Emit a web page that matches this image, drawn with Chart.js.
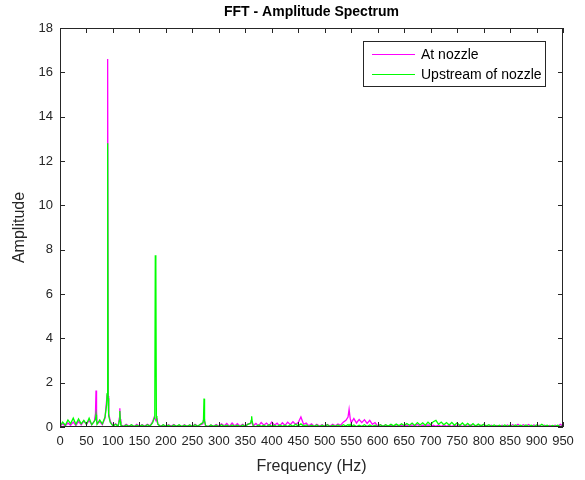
<!DOCTYPE html>
<html>
<head>
<meta charset="utf-8">
<title>FFT - Amplitude Spectrum</title>
<script src="https://cdn.jsdelivr.net/npm/chart.js@4.4.1/dist/chart.umd.min.js"></script>
<style>
  html, body { margin: 0; padding: 0; background: #ffffff; }
  #spectrumChart { display: block; }
</style>
</head>
<body>
<canvas id="spectrumChart" width="585" height="480"></canvas>
<script>
// Spectrum bins (Hz) shared by both measurement points
const freqHz = [
  0, 5, 10, 15, 20, 25, 30, 35, 40, 45,
  50, 55, 60, 65, 67, 68, 69, 70, 75, 80, 85,
  88, 89, 90, 91, 92, 95, 100, 105, 110,
  112, 113, 114, 115, 120, 125, 130, 135, 140, 145,
  150, 155, 160, 165, 170, 175, 178, 179, 180, 181, 182, 183, 185,
  190, 195, 200, 205, 210, 215, 220, 225, 230, 235,
  240, 245, 250, 255, 260, 265, 270, 271, 272, 273, 275,
  280, 285, 290, 295, 300, 305, 310, 315, 320, 325,
  330, 335, 340, 345, 350, 355, 360, 361, 362, 363, 365,
  370, 375, 380, 385, 390, 395, 400, 405, 410, 415,
  420, 425, 430, 435, 440, 445, 450, 455, 460, 465,
  470, 475, 480, 485, 490, 495, 500, 505, 510, 515,
  520, 525, 530, 535, 540, 544, 546, 548, 550, 555,
  560, 565, 570, 575, 580, 585, 590, 595, 600, 605,
  610, 615, 620, 625, 630, 635, 640, 645, 650, 655,
  660, 665, 670, 675, 680, 685, 690, 695, 700, 705,
  710, 715, 720, 725, 730, 735, 740, 745, 750, 755,
  760, 765, 770, 775, 780, 785, 790, 795, 800, 805,
  810, 815, 820, 825, 830, 835, 840, 845, 850, 855,
  860, 865, 870, 875, 880, 885, 890, 895, 900, 905,
  910, 915, 920, 925, 930, 935, 940, 945, 950
];

const atNozzle = [
  0.03, 0.14, 0.05, 0.18, 0.08, 0.22, 0.06, 0.25, 0.10, 0.28,
  0.12, 0.30, 0.10, 0.28, 0.60, 1.65, 0.70, 0.15, 0.24, 0.10, 0.40,
  1.20, 1.45, 16.60, 1.40, 0.60, 0.25, 0.06, 0.14, 0.05,
  0.40, 0.85, 0.35, 0.10, 0.03, 0.12, 0.04, 0.09, 0.02, 0.12,
  0.03, 0.10, 0.04, 0.12, 0.05, 0.25, 0.45, 0.40, 0.35, 0.30, 0.30, 0.40, 0.12,
  0.03, 0.09, 0.02, 0.10, 0.04, 0.11, 0.03, 0.08, 0.02, 0.10,
  0.03, 0.09, 0.02, 0.12, 0.04, 0.10, 0.15, 0.30, 0.35, 0.25, 0.06,
  0.02, 0.09, 0.03, 0.11, 0.04, 0.14, 0.05, 0.16, 0.03, 0.18,
  0.05, 0.15, 0.04, 0.12, 0.03, 0.14, 0.15, 0.20, 0.25, 0.18, 0.06,
  0.16, 0.05, 0.20, 0.08, 0.18, 0.06, 0.22, 0.08, 0.17, 0.05,
  0.19, 0.07, 0.22, 0.10, 0.24, 0.12, 0.20, 0.45, 0.12, 0.18,
  0.05, 0.14, 0.03, 0.12, 0.04, 0.10, 0.03, 0.11, 0.04, 0.12,
  0.05, 0.14, 0.08, 0.22, 0.30, 0.45, 0.80, 0.40, 0.20, 0.38,
  0.18, 0.34, 0.20, 0.33, 0.16, 0.30, 0.12, 0.20, 0.04, 0.10,
  0.03, 0.09, 0.02, 0.08, 0.03, 0.10, 0.02, 0.08, 0.03, 0.09,
  0.02, 0.10, 0.03, 0.12, 0.02, 0.09, 0.03, 0.10, 0.02, 0.08,
  0.03, 0.09, 0.02, 0.10, 0.03, 0.08, 0.02, 0.09, 0.03, 0.08,
  0.02, 0.08, 0.03, 0.09, 0.02, 0.07, 0.03, 0.08, 0.02, 0.07,
  0.03, 0.08, 0.02, 0.07, 0.03, 0.08, 0.02, 0.09, 0.03, 0.10,
  0.04, 0.12, 0.03, 0.10, 0.04, 0.11, 0.03, 0.09, 0.04, 0.08,
  0.02, 0.08, 0.03, 0.07, 0.02, 0.08, 0.03, 0.12, 0.04
];

const upstreamOfNozzle = [
  0.04, 0.22, 0.08, 0.32, 0.15, 0.40, 0.12, 0.36, 0.14, 0.30,
  0.12, 0.40, 0.10, 0.26, 0.35, 0.55, 0.30, 0.12, 0.32, 0.14, 0.45,
  1.00, 1.50, 12.80, 1.30, 0.50, 0.20, 0.05, 0.12, 0.04,
  0.30, 0.72, 0.25, 0.08, 0.02, 0.09, 0.03, 0.10, 0.02, 0.08,
  0.03, 0.09, 0.02, 0.10, 0.04, 0.20, 0.40, 0.55, 7.75, 7.30, 0.50, 0.35, 0.12,
  0.02, 0.10, 0.03, 0.08, 0.02, 0.09, 0.03, 0.10, 0.02, 0.08,
  0.03, 0.09, 0.02, 0.10, 0.03, 0.12, 0.20, 0.35, 1.28, 0.30, 0.06,
  0.02, 0.09, 0.03, 0.08, 0.02, 0.10, 0.03, 0.08, 0.02, 0.09,
  0.03, 0.08, 0.02, 0.09, 0.03, 0.12, 0.18, 0.30, 0.48, 0.25, 0.05,
  0.02, 0.09, 0.03, 0.08, 0.02, 0.10, 0.03, 0.08, 0.02, 0.09,
  0.03, 0.08, 0.02, 0.10, 0.03, 0.12, 0.05, 0.14, 0.04, 0.09,
  0.02, 0.08, 0.03, 0.09, 0.02, 0.08, 0.03, 0.10, 0.02, 0.08,
  0.03, 0.09, 0.02, 0.10, 0.04, 0.11, 0.06, 0.12, 0.03, 0.09,
  0.02, 0.08, 0.03, 0.10, 0.02, 0.09, 0.03, 0.08, 0.02, 0.10,
  0.03, 0.10, 0.04, 0.12, 0.05, 0.13, 0.06, 0.15, 0.07, 0.16,
  0.08, 0.18, 0.07, 0.20, 0.09, 0.19, 0.08, 0.22, 0.10, 0.24,
  0.30, 0.12, 0.22, 0.10, 0.20, 0.09, 0.21, 0.08, 0.19, 0.07,
  0.18, 0.06, 0.16, 0.05, 0.15, 0.04, 0.13, 0.05, 0.12, 0.04,
  0.10, 0.03, 0.09, 0.03, 0.08, 0.02, 0.09, 0.03, 0.08, 0.02,
  0.09, 0.03, 0.08, 0.02, 0.09, 0.03, 0.08, 0.02, 0.09, 0.03,
  0.12, 0.03, 0.08, 0.02, 0.07, 0.03, 0.08, 0.02, 0.05
];

const seriesNames = ["At nozzle", "Upstream of nozzle"];
const seriesColors = ["#ff00ff", "#00ff00"];

const axisColor = "#262626";
const fontFamily = "Arial, 'Liberation Sans', Helvetica, sans-serif";

function toPoints(values) {
  return freqHz.map((f, index) => ({ x: f, y: values[index] }));
}

// MATLAB-style frame: box, inward ticks on all four sides, titles and legend
const matlabFramePlugin = {
  id: "matlabFrame",
  afterDraw(chart) {
    const { ctx, chartArea } = chart;
    const { left, right, top, bottom } = chartArea;
    const xScale = chart.scales.x;
    const yScale = chart.scales.y;
    const tickLen = 5;

    ctx.save();
    ctx.strokeStyle = axisColor;
    ctx.lineWidth = 1;
    ctx.strokeRect(left + 0.5, top + 0.5, right - left - 1, bottom - top - 1);

    ctx.beginPath();
    xScale.ticks.forEach((tick) => {
      const x = Math.round(xScale.getPixelForValue(tick.value)) + 0.5;
      ctx.moveTo(x, bottom);
      ctx.lineTo(x, bottom - tickLen);
      ctx.moveTo(x, top);
      ctx.lineTo(x, top + tickLen);
    });
    yScale.ticks.forEach((tick) => {
      const y = Math.round(yScale.getPixelForValue(tick.value)) + 0.5;
      ctx.moveTo(left, y);
      ctx.lineTo(left + tickLen, y);
      ctx.moveTo(right, y);
      ctx.lineTo(right - tickLen, y);
    });
    ctx.stroke();

    // title and axis labels
    ctx.textAlign = "center";
    ctx.textBaseline = "middle";
    ctx.fillStyle = "#000000";
    ctx.font = `bold 14px ${fontFamily}`;
    ctx.fillText("FFT - Amplitude Spectrum", (left + right) / 2, 12);

    ctx.fillStyle = axisColor;
    ctx.font = `16px ${fontFamily}`;
    ctx.fillText("Frequency (Hz)", (left + right) / 2, 467);

    ctx.translate(20, (top + bottom) / 2);
    ctx.rotate(-Math.PI / 2);
    ctx.fillText("Amplitude", 0, 0);
    ctx.restore();

    drawLegend(ctx);
  }
};

function drawLegend(ctx) {
  const box = { x: 363, y: 41, w: 182, h: 45 };
  const rowY = [54, 74];

  ctx.save();
  ctx.fillStyle = "#ffffff";
  ctx.fillRect(box.x, box.y, box.w, box.h);
  ctx.strokeStyle = axisColor;
  ctx.lineWidth = 1;
  ctx.strokeRect(box.x + 0.5, box.y + 0.5, box.w, box.h);

  ctx.font = `14px ${fontFamily}`;
  ctx.textAlign = "left";
  ctx.textBaseline = "middle";
  seriesNames.forEach((name, index) => {
    ctx.strokeStyle = seriesColors[index];
    ctx.lineWidth = 1;
    ctx.beginPath();
    ctx.moveTo(372, rowY[index] + 0.5);
    ctx.lineTo(415, rowY[index] + 0.5);
    ctx.stroke();
    ctx.fillStyle = "#000000";
    ctx.fillText(name, 421, rowY[index] + 1);
  });
  ctx.restore();
}

const tickFont = { family: fontFamily, size: 13 };

new Chart(document.getElementById("spectrumChart"), {
  type: "line",
  data: {
    datasets: [
      {
        label: seriesNames[0],
        data: toPoints(atNozzle),
        borderColor: seriesColors[0],
        borderWidth: 1.3,
        pointRadius: 0,
        tension: 0,
        order: 2
      },
      {
        label: seriesNames[1],
        data: toPoints(upstreamOfNozzle),
        borderColor: seriesColors[1],
        borderWidth: 1.3,
        pointRadius: 0,
        tension: 0,
        order: 1
      }
    ]
  },
  options: {
    responsive: false,
    animation: false,
    layout: { padding: { top: 28, right: 22, bottom: 0, left: 0 } },
    plugins: {
      legend: { display: false },
      title: { display: false },
      tooltip: { enabled: false }
    },
    scales: {
      x: {
        type: "linear",
        min: 0,
        max: 950,
        afterFit(scale) { scale.height = 53; },
        grid: { display: false, drawTicks: false },
        border: { display: false },
        ticks: { stepSize: 50, autoSkip: false, maxRotation: 0, padding: 7, color: axisColor, font: tickFont }
      },
      y: {
        min: 0,
        max: 18,
        afterFit(scale) { scale.width = 60; },
        grid: { display: false, drawTicks: false },
        border: { display: false },
        ticks: { stepSize: 2, padding: 7, color: axisColor, font: tickFont }
      }
    }
  },
  plugins: [matlabFramePlugin]
});
</script>
</body>
</html>
